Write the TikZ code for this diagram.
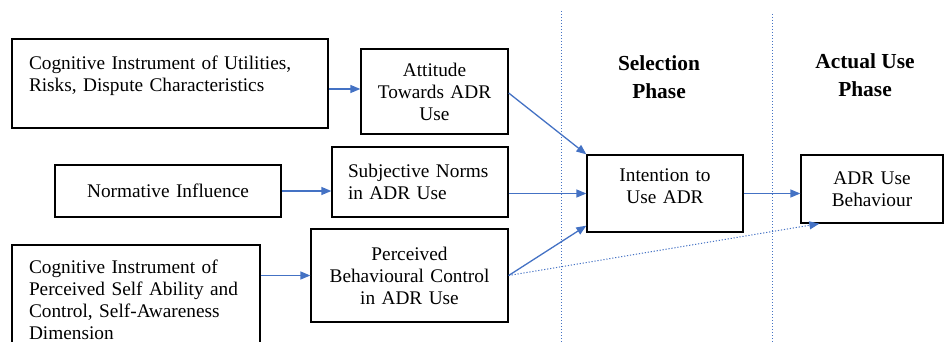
\documentclass[tikz,border=0pt]{standalone}
\usepackage{fontspec}
\setmainfont{Liberation Serif}
\usepackage{xcolor}
\usepackage{tikz}
\definecolor{adrblue}{RGB}{68, 114, 196}
\usetikzlibrary{arrows.meta}
\newcommand{\boxfont}{\fontsize{19.3}{22}\selectfont}
\newcommand{\phasefont}{\fontsize{21.4}{27.4}\selectfont\bfseries}

\begin{document}
\begin{tikzpicture}[
    x=1pt, y=-1pt,
    factor/.style={
        rectangle,
        draw=black,
        line width=1.3pt,
        inner sep=2pt,
        align=center,
        font=\boxfont
    },
    phase/.style={align=center, font=\phasefont},
    arrow/.style={-{Triangle[length=10pt,width=8pt]},line width=1.3pt,adrblue},
    dotarrow/.style={-{Triangle[length=10pt,width=8pt]},line width=1pt,adrblue,dash pattern=on 1.2pt off 1.8pt},
    divider/.style={line width=1pt,adrblue,dash pattern=on 1.2pt off 1.8pt}
]
    \useasboundingbox (0,0) rectangle (944,342);

    % Antecedents
    \node[factor, minimum width=316, minimum height=89, text width=282, align=left, text depth=42pt] (cog1) at (170,83.5) {
        Cognitive Instrument of Utilities,\\
        Risks, Dispute Characteristics
    };
    \node[factor, minimum width=226, minimum height=52, text width=216] (norm) at (168,191) {
        Normative Influence
    };
    \node[factor, minimum width=248, minimum height=109, text width=214, align=left] (cog2) at (136,299.5) {
        Cognitive Instrument of\\
        Perceived Self Ability and\\
        Control, Self-Awareness\\
        Dimension
    };

    % Attitude, norms, control
    \node[factor, minimum width=147, minimum height=85, text width=137] (att) at (434.5,91.5) {
        Attitude\\
        Towards ADR\\
        Use
    };
    \node[factor, minimum width=176, minimum height=70, text width=144, align=left] (subj) at (420,182) {
        Subjective Norms\\
        in ADR Use
    };
    \node[factor, minimum width=197, minimum height=93, text width=187] (pbc) at (409.5,275.5) {
        Perceived\\
        Behavioural Control\\
        in ADR Use
    };

    % Intention and behaviour
    \node[factor, minimum width=156, minimum height=77, text width=146, text depth=36pt] (intent) at (665,193.5) {
        Intention to\\
        Use ADR
    };
    \node[factor, minimum width=142, minimum height=68, text width=132] (adr) at (872,189) {
        ADR Use\\
        Behaviour
    };

    % Phase labels
    \node[phase] (selphase) at (659,77) {Selection\\Phase};
    \node[phase] (actphase) at (865,75) {Actual Use\\Phase};

    % Phase dividers
    \coordinate (div1top) at (561,11);
    \coordinate (div1bot) at (561,342);
    \coordinate (div2top) at (772,14);
    \coordinate (div2bot) at (772,342);
    \draw[divider] (div1top) -- (div1bot);
    \draw[divider] (div2top) -- (div2bot);

    % Arrows
    \draw[arrow] ([yshift=-5.5pt]cog1.east) -- ([yshift=2.5pt]att.west);
    \draw[arrow] (norm.east) -- (subj.west |- norm.east);
    \draw[arrow] (cog2.east |- pbc.west) -- (pbc.west);
    \draw[arrow] ([yshift=-1.5pt]att.east) -- (intent.north west);
    \draw[arrow] (subj.east |- intent.west) -- (intent.west);
    \draw[arrow] (pbc.east) -- ([yshift=7pt]intent.south west);
    \draw[arrow] (intent.east) -- (adr.west |- intent.east);
    \draw[dotarrow] (pbc.east) -- ([xshift=19pt]adr.south west);
\end{tikzpicture}
\end{document}
